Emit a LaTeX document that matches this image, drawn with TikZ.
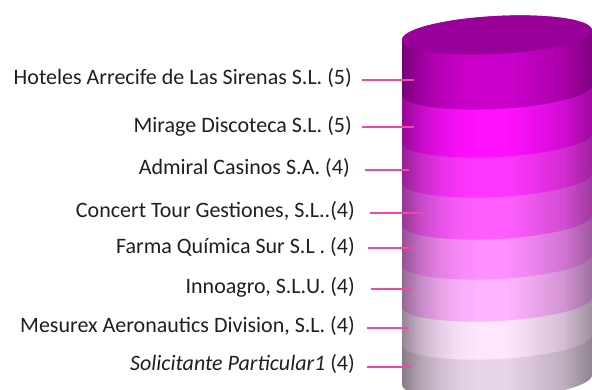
\documentclass[tikz,border=0pt]{standalone}
\usepackage{fontspec}
\setmainfont{Carlito}
\usetikzlibrary{fadings}
\pgfdeclarehorizontalshading{cylsh}{100bp}{color(0bp)=(black!58); color(25bp)=(black!58); color(30bp)=(black!78); color(35bp)=(black!90); color(40bp)=(black!97); color(45bp)=(black); color(52.5bp)=(black); color(60bp)=(black!92); color(67.5bp)=(black!82); color(75bp)=(black!62); color(100bp)=(black!62)}
\tikzfading[name=cylfade,shading=cylsh]
\begin{document}
\begin{tikzpicture}[x=1pt,y=-1pt,
  lbl/.style={anchor=east,inner sep=0pt,font=\fontsize{22}{24}\selectfont,text=black!88},
  conn/.style={draw=magenta!72!white,line width=1.3pt}]
\useasboundingbox (0,0) rectangle (592,389);
\clip (0,0) rectangle (592,389);
\def\xc{497}\def\ra{95}\def\rb{19}\def\ct{0.99863}\def\st{0.05234}
% band: #1 top centre y, #2 bottom centre y, #3 colour
\newcommand{\cylband}[3]{%
  \fill[#3]
    plot[domain=180:0,samples=60,smooth] ({\xc+\ra*cos(\x)*\ct+\rb*sin(\x)*\st},{#2+\rb*sin(\x)*\ct-\ra*cos(\x)*\st})
    -- plot[domain=0:-180,samples=60,smooth] ({\xc+\ra*cos(\x)*\ct+\rb*sin(\x)*\st},{#1+\rb*sin(\x)*\ct-\ra*cos(\x)*\st})
    -- cycle;}
\definecolor{c1}{HTML}{CC00CC}
\definecolor{c2}{HTML}{FF10FF}
\definecolor{c3}{HTML}{FF36FF}
\definecolor{c4}{HTML}{FF5EFF}
\definecolor{c5}{HTML}{FF8EFF}
\definecolor{c6}{HTML}{FFB4FF}
\definecolor{c7}{HTML}{FFE6FF}
\definecolor{c8}{HTML}{E8D4E8}
\definecolor{capc}{HTML}{990099}
\cylband{340}{380}{c8}
\cylband{302}{340}{c7}
\cylband{260}{302}{c6}
\cylband{220}{260}{c5}
\cylband{178}{220}{c4}
\cylband{138}{178}{c3}
\cylband{90}{138}{c2}
\cylband{35}{90}{c1}
% edge darkening over the whole side
\fill[black,path fading=cylfade]
    plot[domain=180:0,samples=60,smooth] ({\xc+\ra*cos(\x)*\ct+\rb*sin(\x)*\st},{380+\rb*sin(\x)*\ct-\ra*cos(\x)*\st})
    -- plot[domain=0:-180,samples=60,smooth] ({\xc+\ra*cos(\x)*\ct+\rb*sin(\x)*\st},{35+\rb*sin(\x)*\ct-\ra*cos(\x)*\st})
    -- cycle;
\fill[capc] plot[domain=0:360,samples=90,smooth] ({\xc+\ra*cos(\x)*\ct+\rb*sin(\x)*\st},{35+\rb*sin(\x)*\ct-\ra*cos(\x)*\st}) -- cycle;
% labels
\node[lbl] (t1) at (352,78) {Hoteles Arrecife de Las Sirenas S.L. (5)};
\node[lbl] (t2) at (352,126) {Mirage Discoteca S.L. (5)};
\node[lbl] (t3) at (350,168) {Admiral Casinos S.A. (4)};
\node[lbl] (t4) at (355,211) {Concert Tour Gestiones, S.L..(4)};
\node[lbl] (t5) at (355,247) {Farma Química Sur S.L . (4)};
\node[lbl] (t6) at (355,287) {Innoagro, S.L.U. (4)};
\node[lbl] (t7) at (355,326) {Mesurex Aeronautics Division, S.L. (4)};
\node[lbl] (t8) at (355,364) {\textit{Solicitante Particular1} (4)};
% connectors
\coordinate (s1) at (362,80);  \coordinate (e1p) at (414,80);
\coordinate (s2) at (362,127); \coordinate (e2p) at (414,127);
\coordinate (s3) at (365,170); \coordinate (e3p) at (409,170);
\coordinate (s4) at (370,213); \coordinate (e4p) at (423,213);
\coordinate (s5) at (368,248); \coordinate (e5p) at (413,248);
\coordinate (s6) at (371,289); \coordinate (e6p) at (412,289);
\coordinate (s7) at (367,328); \coordinate (e7p) at (409,328);
\coordinate (s8) at (367,367); \coordinate (e8p) at (411,367);
\foreach \i in {1,...,8} {\draw[conn] (s\i) -- (e\i p);}
\end{tikzpicture}
\end{document}
